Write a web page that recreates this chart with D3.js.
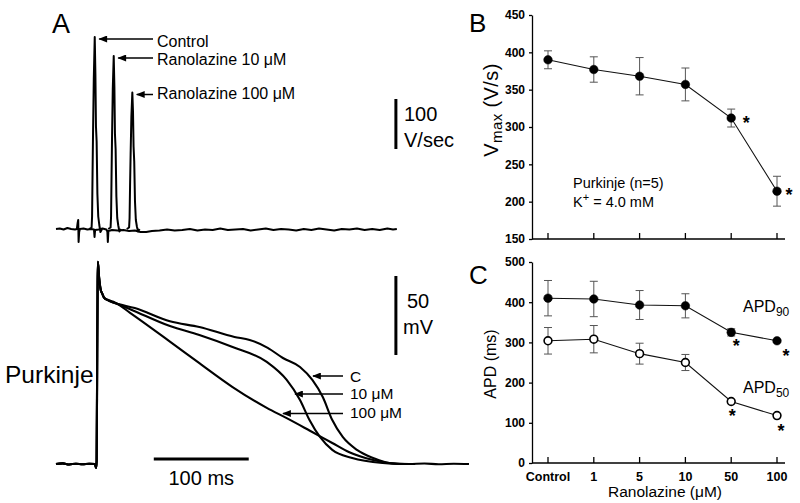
<!DOCTYPE html>
<html><head><meta charset="utf-8">
<script src="https://cdn.jsdelivr.net/npm/d3@7"></script>
<style>
body{margin:0;background:#fff}
svg text{font-family:"Liberation Sans",Arial,Helvetica,sans-serif;fill:#000}
</style>
</head><body><svg id="c" width="800" height="503"></svg>
<script>
// ---------- Panel B / C data ----------
const conc = ["Control","1","5","10","50","100"];
const vmax = [390,377,368,357,312,214];
const vmaxErr = [12,17,25,22,12,20];
const vmaxSig = [false,false,false,false,true,true];
const apd90 = [410,408,393,391,325,304];
const apd90Err = [44,44,36,30,9,3];
const apd50 = [304,308,272,250,153,118];
const apd50Err = [33,34,26,20,3,3];
const apdSig = [false,false,false,false,true,true];
const vmaxTicks = [150,200,250,300,350,400,450];
const apdTicks = [0,100,200,300,400,500];

// ---------- Panel A data: dV/dt (time ms, V/s) ----------
const dvBaseline = [[-43,0],[-39,1],[-35,-1],[-31,2],[-27,0],[-23,-1],[-21,0],[-20.2,12],[-19.6,18],[-19.2,-26],[-18.6,-6],[-17.8,0],[-14,1],[-10,-1],[-6,0],[-3,-1],[-2.4,-16],[-1.8,-2],[2,-1],[6,1],[10,-1],[11.1,-5],[11.6,-26],[12.2,-4],[16,-2],[22,-3],[28,-2],[34,-4],[40,-3],[46,-6],[52,-6],[58,-4],[66,-3],[74,-1],[82,-3],[90,-2],[98,0],[106,-3],[114,-1],[122,-2],[130,1],[138,-2],[146,-1],[154,0],[162,-3],[170,-1],[178,1],[186,-2],[194,0],[202,-1],[210,-3],[218,0],[226,-2],[234,1],[242,-1],[250,-3],[258,0],[266,-1],[274,1],[282,-2],[290,0],[298,-2],[306,1],[312,-1],[316,0]];
const dvControl = [[-8,0],[-5.5,3],[-5.0,25],[-4.5,110],[-4.0,190],[-3.2,300],[-2.2,384],[-1.5,310],[-0.9,205],[-0.2,175],[0.6,70],[1.5,25],[2.6,8],[3.8,-6],[5.5,0]];
const dv10 = [[12,0],[14.5,3],[15,25],[15.5,105],[16,180],[16.8,280],[17.8,346],[18.5,285],[19.1,190],[19.8,160],[20.6,65],[21.5,22],[22.6,7],[23.8,-5],[25.5,0]];
const dv100 = [[31.5,0],[34,3],[34.5,22],[35,85],[35.6,150],[36.4,225],[37.4,273],[38.1,235],[38.7,165],[39.4,135],[40.2,55],[41.1,18],[42.2,5],[43.4,-5],[45,0]];
const dvLabels = ["Control","Ranolazine 10 \u03bcM","Ranolazine 100 \u03bcM"];

// ---------- Panel A data: action potentials (time ms, mV) ----------
const apUpstroke = [[-43,-90],[-36,-89.6],[-29,-90.3],[-22,-89.8],[-15,-90.2],[-8,-89.9],[-2,-90],[-0.8,-92.5],[-0.2,-88],[0.4,-20],[0.8,20],[1.1,38]];
const apControl = apUpstroke.concat([[2.4,28],[4.2,20],[5.6,18],[7.4,15.5],[12,13.5],[18.9,11.9],[40,8.7],[77,0.3],[108,-3.3],[145,-9.6],[161,-11.5],[180,-16.5],[196,-22.9],[214,-28.6],[227,-36.8],[238,-47.6],[248,-62.2],[259,-72.9],[274,-81.1],[291,-86.2],[308,-89.4],[329,-90],[345,-89.7],[360,-90.2],[376,-89.8],[392,-90]]);
const ap10 = apUpstroke.concat([[2.4,28],[4.2,20],[5.6,18],[7.4,15.5],[12,13.5],[18.9,11.9],[35,8],[77,-2.7],[108,-8.4],[143,-16],[179,-25.4],[200,-36.8],[214,-49.5],[224,-62.2],[235,-72.9],[248,-81.1],[269,-86.2],[301,-89.4],[319,-90],[335,-90]]);
const ap100 = apUpstroke.concat([[2.4,28],[4.2,20],[5.6,18],[7.4,15.5],[12,13.8],[18.9,12.3],[35,5.7],[77,-12.5],[108,-26.2],[143,-41.3],[179,-54.5],[200,-61],[224,-68.8],[248,-76.7],[266,-82.6],[291,-87.5],[308,-89.4],[324,-90],[335,-90]]);
const apLabels = ["C","10 \u03bcM","100 \u03bcM"];

// ---------- drawing ----------
const svg = d3.select("#c");
svg.append("rect").attr("width",800).attr("height",503).attr("fill","#fff");
svg.append("defs").append("marker").attr("id","ah")
  .attr("viewBox","0 0 10 8").attr("refX",9).attr("refY",4)
  .attr("markerWidth",10).attr("markerHeight",7).attr("markerUnits","userSpaceOnUse")
  .attr("orient","auto")
  .append("path").attr("d","M0,0L10,4L0,8Z").attr("fill","#000");

// shared time scale
const xT = d3.scaleLinear().domain([-43,392]).range([56,469]);
const yD = d3.scaleLinear().domain([0,100]).range([229,179]);
const yV = d3.scaleLinear().domain([-90,40]).range([464,258.6]);

const lineD = d3.line().x(d=>xT(d[0])).y(d=>yD(d[1]));
const lineV = d3.line().x(d=>xT(d[0])).y(d=>yV(d[1])).curve(d3.curveMonotoneX);

const gA = svg.append("g");
gA.append("text").attr("x",52).attr("y",33).attr("font-size",27).text("A");

// dV/dt traces
[dvBaseline, dvControl, dv10, dv100].forEach(tr=>{
  gA.append("path").attr("d",lineD(tr)).attr("fill","none").attr("stroke","#000")
    .attr("stroke-width",2).attr("stroke-linejoin","round");
});
// labels with arrows
const dvPeaks = [dvControl, dv10, dv100].map(tr=>tr.reduce((a,b)=>b[1]>a[1]?b:a));
const dvTextY = [46.5,65,99];
dvPeaks.forEach((p,i)=>{
  const tx = xT(p[0])+4.5, ty = yD(p[1])+2;
  gA.append("line").attr("x1",153).attr("y1",ty).attr("x2",tx).attr("y2",ty)
    .attr("stroke","#000").attr("stroke-width",1.5).attr("marker-end","url(#ah)");
  gA.append("text").attr("x",157).attr("y",dvTextY[i]).attr("font-size",16).text(dvLabels[i]);
});
// 100 V/sec scale bar
gA.append("line").attr("x1",xT(315)).attr("x2",xT(315)).attr("y1",yD(260)).attr("y2",yD(160))
  .attr("stroke","#000").attr("stroke-width",3);
gA.append("text").attr("x",404).attr("y",120.7).attr("font-size",20).text("100");
gA.append("text").attr("x",404).attr("y",146.7).attr("font-size",20).text("V/sec");

// AP traces
[apControl, ap10, ap100].forEach(tr=>{
  gA.append("path").attr("d",lineV(tr)).attr("fill","none").attr("stroke","#000")
    .attr("stroke-width",2.1).attr("stroke-linejoin","round");
});
const apTips = [[313,376],[295,394],[283,413.5]];
const apTextY = [381.7,399.3,418.3];
apTips.forEach((p,i)=>{
  gA.append("line").attr("x1",343).attr("y1",p[1]).attr("x2",p[0]).attr("y2",p[1])
    .attr("stroke","#000").attr("stroke-width",1.5).attr("marker-end","url(#ah)");
  gA.append("text").attr("x",350).attr("y",apTextY[i]).attr("font-size",15.5).text(apLabels[i]);
});
// 50 mV scale bar
gA.append("line").attr("x1",xT(315)).attr("x2",xT(315)).attr("y1",yV(29)).attr("y2",yV(-21))
  .attr("stroke","#000").attr("stroke-width",3);
gA.append("text").attr("x",418).attr("y",308.3).attr("font-size",20).attr("text-anchor","middle").text("50");
gA.append("text").attr("x",418).attr("y",334.3).attr("font-size",20).attr("text-anchor","middle").text("mV");
// 100 ms scale bar
gA.append("line").attr("x1",xT(60)).attr("x2",xT(160)).attr("y1",459).attr("y2",459)
  .attr("stroke","#000").attr("stroke-width",3);
gA.append("text").attr("x",(xT(60)+xT(160))/2).attr("y",485).attr("font-size",20).attr("text-anchor","middle").text("100 ms");
gA.append("text").attr("x",5).attr("y",383.3).attr("font-size",24.5).text("Purkinje");

// ---------- Panels B and C ----------
const xC = d3.scalePoint().domain(conc).range([548,777]);
const yB = d3.scaleLinear().domain([150,450]).range([239,15]);
const yC = d3.scaleLinear().domain([0,500]).range([463,262]);
const axL = 532, axR = 785;

function frame(g, yS, ticks, withLabels){
  const ax = g.append("g").attr("transform",`translate(${axL},0)`)
    .call(d3.axisLeft(yS).tickValues(ticks).tickSize(3).tickSizeOuter(0).tickPadding(4).tickFormat(d3.format("d")));
  ax.select(".domain").attr("stroke-width",1.3);
  ax.selectAll(".tick line").attr("stroke-width",1.3);
  ax.selectAll(".tick text").attr("font-size",12).attr("font-weight","bold")
    .attr("font-family","'Liberation Sans',Arial,sans-serif");
  const y0 = yS.range()[0];
  g.append("line").attr("x1",axL).attr("x2",axR).attr("y1",y0).attr("y2",y0)
    .attr("stroke","#000").attr("stroke-width",1.3);
  g.selectAll(".xt").data(conc).enter().append("line")
    .attr("x1",d=>xC(d)).attr("x2",d=>xC(d)).attr("y1",y0).attr("y2",y0-6)
    .attr("stroke","#000").attr("stroke-width",1.3);
  if(withLabels){
    g.selectAll(".xl").data(conc).enter().append("text")
      .attr("x",d=>xC(d)).attr("y",y0+17.6).attr("text-anchor","middle")
      .attr("font-size",12.5).attr("font-weight","bold").text(d=>d);
  }
}

function series(g, vals, errs, yS, filled){
  const pts = conc.map((c,i)=>({c, v:vals[i], e:errs[i]}));
  g.append("path").attr("d",d3.line().x(d=>xC(d.c)).y(d=>yS(d.v))(pts))
    .attr("fill","none").attr("stroke","#111").attr("stroke-width",1.1);
  const eb = g.selectAll(null).data(pts).enter().append("g").attr("stroke","#555").attr("stroke-width",1);
  eb.append("line").attr("x1",d=>xC(d.c)).attr("x2",d=>xC(d.c)).attr("y1",d=>yS(d.v+d.e)).attr("y2",d=>yS(d.v-d.e));
  eb.append("line").attr("x1",d=>xC(d.c)-4).attr("x2",d=>xC(d.c)+4).attr("y1",d=>yS(d.v+d.e)).attr("y2",d=>yS(d.v+d.e));
  eb.append("line").attr("x1",d=>xC(d.c)-4).attr("x2",d=>xC(d.c)+4).attr("y1",d=>yS(d.v-d.e)).attr("y2",d=>yS(d.v-d.e));
  g.selectAll(null).data(pts).enter().append("circle")
    .attr("cx",d=>xC(d.c)).attr("cy",d=>yS(d.v)).attr("r",filled?4.3:3.9)
    .attr("fill",filled?"#000":"#fff").attr("stroke","#000").attr("stroke-width",filled?0.5:1.6);
  return pts;
}
function star(g,x,y){
  g.append("text").attr("x",x).attr("y",y+10).attr("text-anchor","middle")
    .attr("font-size",18).attr("font-weight","bold").text("*");
}

// Panel B
const gB = svg.append("g");
gB.append("text").attr("x",469).attr("y",32).attr("font-size",26).text("B");
frame(gB, yB, vmaxTicks, false);
const pB = series(gB, vmax, vmaxErr, yB, true);
const starOffB = [[0,0],[0,0],[0,0],[0,0],[15,1],[12,0]];
pB.forEach((d,i)=>{ if(vmaxSig[i]) star(gB, xC(d.c)+starOffB[i][0], yB(d.v)+starOffB[i][1]); });
const tB = gB.append("text").attr("transform","translate(498,110) rotate(-90)").attr("text-anchor","middle")
  .attr("font-size",20).attr("letter-spacing",0.4);
tB.append("tspan").text("V");
tB.append("tspan").attr("font-size",15).attr("dy",4).text("max");
tB.append("tspan").attr("dy",-4).text(" (V/s)");
gB.append("text").attr("x",573).attr("y",188).attr("font-size",14.5).text("Purkinje (n=5)");
const kt = gB.append("text").attr("x",573).attr("y",207).attr("font-size",14.5);
kt.append("tspan").text("K");
kt.append("tspan").attr("dy",-6).attr("font-size",11).text("+");
kt.append("tspan").attr("dy",6).text(" = 4.0 mM");

// Panel C
const gC = svg.append("g");
gC.append("text").attr("x",469).attr("y",284).attr("font-size",26).text("C");
frame(gC, yC, apdTicks, true);
const p90 = series(gC, apd90, apd90Err, yC, true);
const p50 = series(gC, apd50, apd50Err, yC, false);
const off90 = [[0,0],[0,0],[0,0],[0,0],[5,10],[9,11]];
const off50 = [[0,0],[0,0],[0,0],[0,0],[1,11],[4,11]];
p90.forEach((d,i)=>{ if(apdSig[i]) star(gC, xC(d.c)+off90[i][0], yC(d.v)+off90[i][1]); });
p50.forEach((d,i)=>{ if(apdSig[i]) star(gC, xC(d.c)+off50[i][0], yC(d.v)+off50[i][1]); });
const l90 = gC.append("text").attr("x",743).attr("y",311.7).attr("font-size",16);
l90.append("tspan").text("APD");
l90.append("tspan").attr("font-size",12).attr("dy",4).text("90");
const l50 = gC.append("text").attr("x",743).attr("y",392.7).attr("font-size",16);
l50.append("tspan").text("APD");
l50.append("tspan").attr("font-size",12).attr("dy",4).text("50");
gC.append("text").attr("transform","translate(495.5,364) rotate(-90)").attr("text-anchor","middle")
  .attr("font-size",16).text("APD (ms)");
gC.append("text").attr("x",665).attr("y",497).attr("text-anchor","middle").attr("font-size",15.5)
  .text("Ranolazine (\u03bcM)");
</script>
</body></html>
